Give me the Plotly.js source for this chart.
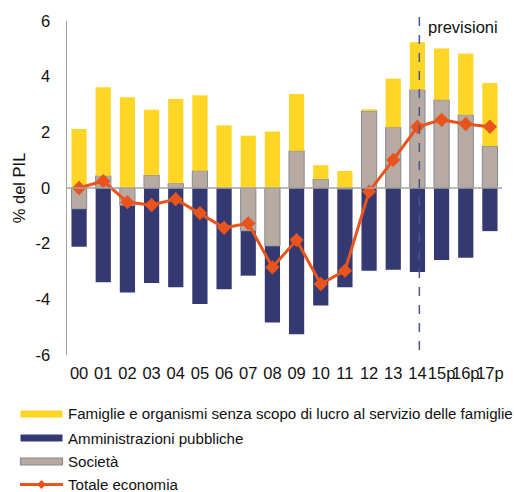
<!DOCTYPE html>
<html>
<head>
<meta charset="utf-8">
<script src="https://cdn.plot.ly/plotly-3.0.1.min.js"></script>
<style>html,body{margin:0;padding:0;background:#fff;}#chart{width:514px;height:492px;}</style>
</head>
<body>
<div id="chart"></div>
<script>
const years = ["00","01","02","03","04","05","06","07","08","09","10","11","12","13","14","15p","16p","17p"];
const societa = [-0.76, 0.44, -0.64, 0.47, 0.17, 0.62, 0.0, -1.55, -2.09, 1.34, 0.32, -0.05, 2.77, 2.18, 3.53, 3.17, 2.63, 1.51];
const amministrazioni = [-1.35, -3.39, -3.11, -3.41, -3.57, -4.17, -3.64, -1.60, -2.74, -5.25, -4.22, -3.52, -2.97, -2.94, -3.02, -2.59, -2.51, -1.55];
const famiglie = [2.12, 3.18, 3.26, 2.34, 3.03, 2.71, 2.25, 1.88, 2.03, 2.04, 0.50, 0.61, 0.06, 1.75, 1.71, 1.84, 2.20, 2.26];
const totale = [0.0, 0.25, -0.51, -0.61, -0.40, -0.90, -1.43, -1.27, -2.85, -1.87, -3.45, -2.97, -0.13, 1.01, 2.20, 2.45, 2.30, 2.20];
const seriesNames = ["Famiglie e organismi senza scopo di lucro al servizio delle famiglie", "Amministrazioni pubbliche", "Società", "Totale economia"];
const forecastLabel = "previsioni";
const yTicks = [-6, -4, -2, 0, 2, 4, 6];

const W = 514, H = 492;
const M = {l: 67, r: 12, t: 21, b: 137};
const pw = W - M.l - M.r, ph = H - M.t - M.b;
const px = x => (x - M.l) / pw;
const py = y => (H - M.b - y) / ph;

const YELLOW = "#FFD625", BLUE = "#343A71", GRAY = "#B6AAA2", GRAYLINE = "#8a8a8a", ORANGE = "#E8541C";

const traces = [
  {type: "bar", x: years, y: societa, name: seriesNames[2], marker: {color: GRAY, line: {color: GRAYLINE, width: 1}}, showlegend: false},
  {type: "bar", x: years, y: amministrazioni, name: seriesNames[1], marker: {color: BLUE, line: {width: 0}}, showlegend: false},
  {type: "bar", x: years, y: famiglie, name: seriesNames[0], marker: {color: YELLOW, line: {width: 0}}, showlegend: false},
  {type: "scatter", mode: "lines+markers", x: years, y: totale, name: seriesNames[3], line: {color: ORANGE, width: 3}, marker: {symbol: "diamond", size: 11, color: ORANGE}, showlegend: false}
];

const shapes = [
  {type: "line", xref: "paper", yref: "y", x0: 0, x1: 1, y0: 0, y1: 0, line: {color: "#a3a3a3", width: 1.5}, layer: "above"},
  {type: "line", xref: "x", yref: "paper", x0: 14.08, x1: 14.08, y0: py(17), y1: py(352), line: {color: "#4a5490", width: 1.5, dash: "dash"}, layer: "above"}
];
const annotations = [
  {xref: "paper", yref: "paper", x: px(426), y: py(27), xanchor: "left", yanchor: "middle", text: forecastLabel, showarrow: false, font: {size: 16.5, color: "#111"}}
];

// custom legend
const legRows = [414, 438, 461.5, 484.5];
const legColors = [YELLOW, BLUE, GRAY];
for (let i = 0; i < 3; i++) {
  shapes.push({type: "rect", xref: "paper", yref: "paper", x0: px(20.5), x1: px(62.5), y0: py(legRows[i] - 3.5), y1: py(legRows[i] + 3.5),
    fillcolor: legColors[i], line: {color: i === 2 ? GRAYLINE : legColors[i], width: i === 2 ? 1.2 : 0}});
}
shapes.push({type: "line", xref: "paper", yref: "paper", x0: px(20), x1: px(63), y0: py(legRows[3]), y1: py(legRows[3]), line: {color: ORANGE, width: 3}});
const dc = 41.5, dr = 4.5, dy = legRows[3];
shapes.push({type: "path", xref: "paper", yref: "paper",
  path: `M ${px(dc)} ${py(dy - dr)} L ${px(dc + dr)} ${py(dy)} L ${px(dc)} ${py(dy + dr)} L ${px(dc - dr)} ${py(dy)} Z`,
  fillcolor: ORANGE, line: {color: ORANGE, width: 0}});
for (let i = 0; i < 4; i++) {
  annotations.push({xref: "paper", yref: "paper", x: px(67), y: py(legRows[i]), xanchor: "left", yanchor: "middle",
    text: seriesNames[i], showarrow: false, borderpad: 0, font: {size: 15.1, color: "#111"}});
}

const layout = {
  width: W, height: H,
  margin: M,
  paper_bgcolor: "#fff", plot_bgcolor: "#fff",
  font: {family: "Liberation Sans, Arial, sans-serif", size: 16, color: "#111"},
  barmode: "relative",
  bargap: 0.37,
  showlegend: false,
  xaxis: {type: "category", range: [-0.5, 17.5], showline: false, showgrid: false, zeroline: false, ticks: "", tickangle: 0, ticklabelstandoff: 6, tickfont: {size: 16.5}, fixedrange: true},
  yaxis: {range: [-6, 6], tickvals: yTicks, ticktext: yTicks.map(String), showgrid: false, zeroline: false,
    showline: true, linecolor: "#a3a3a3", linewidth: 1.5, ticks: "", ticklabelstandoff: 12, tickfont: {size: 16.5},
    title: {text: "% del PIL", font: {size: 16.5}, standoff: 6}},
  shapes: shapes,
  annotations: annotations
};

Plotly.newPlot("chart", traces, layout, {displayModeBar: false, staticPlot: true});
</script>
</body>
</html>
